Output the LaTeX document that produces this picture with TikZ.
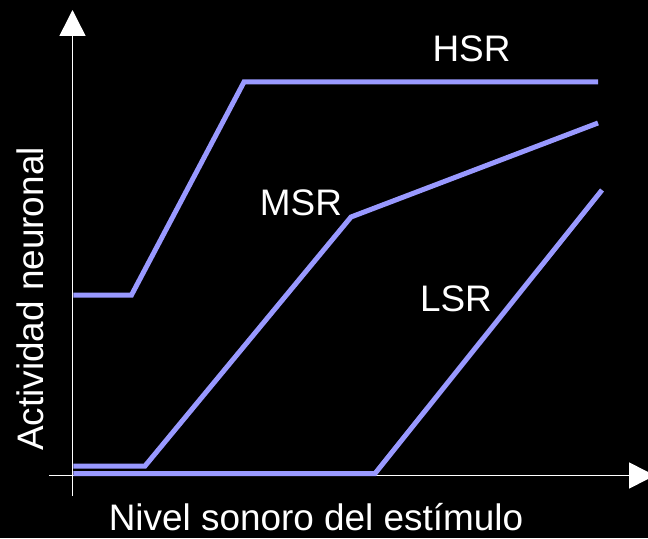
\documentclass[tikz,border=0pt]{standalone}
\usepackage{fontspec}
\setmainfont{Liberation Sans}
\usetikzlibrary{arrows.meta}
\definecolor{srblue}{HTML}{9999FF}

\begin{document}
\begin{tikzpicture}[>={Triangle[length=0.52cm,width=0.52cm]}, line width=0.03cm,
  curve/.style={srblue, line width=0.1cm},
  lbl/.style={white, anchor=base, font=\fontsize{21}{24}\selectfont}]
\fill[black] (-1.45,-1.25) rectangle (11.51,9.51);
\clip (-1.45,-1.25) rectangle (11.51,9.51); %tip of the x arrow is cut by the page
\draw[white, ->] (-0.47,0) -- (11.65,0);
\draw[white, ->] (0,-0.41) -- (0,9.31);
\draw[curve] (0.02,3.61) -- (1.18,3.61) -- (3.43,7.87) -- (10.51,7.87);
\draw[curve] (0.02,0.19) -- (1.45,0.19) -- (5.57,5.17) -- (10.51,7.05);
\draw[curve] (0.02,0.04) -- (6.05,0.04) -- (10.59,5.71);
\node[lbl] (hsr) at (7.98,8.27) {HSR};
\node[lbl] (msr) at (4.57,5.21) {MSR};
\node[lbl] (lsr) at (7.67,3.28) {LSR};
\node[lbl] (xlabel) at (4.87,-1.1) {Nivel sonoro del estímulo};
\node[lbl, rotate=90] (ylabel) at (-0.59,3.53) {Actividad neuronal};
\end{tikzpicture}
\end{document}
